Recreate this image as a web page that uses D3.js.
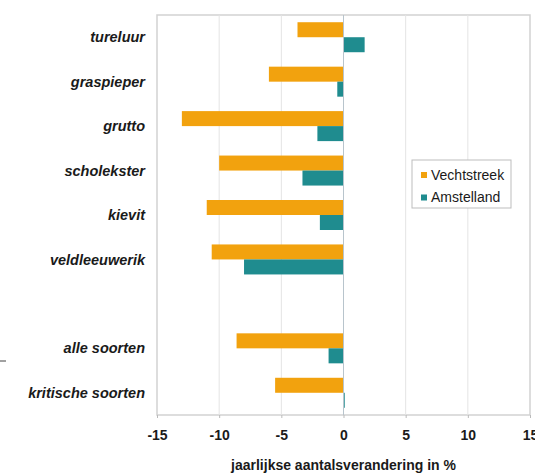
<!DOCTYPE html>
<html>
<head>
<meta charset="utf-8">
<script src="https://cdn.jsdelivr.net/npm/d3@7"></script>
<style>
  html, body { margin: 0; padding: 0; background: #fff; }
  svg { display: block; font-family: "Liberation Sans", Arial, sans-serif; }
</style>
</head>
<body>
<svg id="chart" width="535" height="474"></svg>
<script>
// Species, with an empty spacer slot before the totals
const categories = ["tureluur", "graspieper", "grutto", "scholekster", "kievit", "veldleeuwerik", "", "alle soorten", "kritische soorten"];
const species = ["tureluur", "graspieper", "grutto", "scholekster", "kievit", "veldleeuwerik", "alle soorten", "kritische soorten"];
const seriesNames = ["Vechtstreek", "Amstelland"];
const vechtstreek = [-3.7, -6.0, -13.0, -10.0, -11.0, -10.6, -8.6, -5.5];
const amstelland = [1.7, -0.5, -2.1, -3.3, -1.9, -8.0, -1.2, 0.1];
const xTicks = [-15, -10, -5, 0, 5, 10, 15];
const xTitle = "jaarlijkse aantalsverandering in %";

const colors = { "Vechtstreek": "#F2A20E", "Amstelland": "#1F8C8F" };
const seriesValues = { "Vechtstreek": vechtstreek, "Amstelland": amstelland };

const svg = d3.select("#chart");
const plot = { left: 157, right: 530, top: 15, bottom: 415 };

const x = d3.scaleLinear().domain([-15, 15]).range([plot.left, plot.right]);
const y = d3.scaleBand().domain(categories).range([plot.top, plot.bottom])
  .paddingInner(0.325).paddingOuter(0.1625);
const ySub = d3.scaleBand().domain(seriesNames).range([0, y.bandwidth()]);

// plot frame
svg.append("rect")
  .attr("x", plot.left).attr("y", plot.top)
  .attr("width", plot.right - plot.left).attr("height", plot.bottom - plot.top)
  .attr("fill", "#fff").attr("stroke", "#d2d2d2").attr("stroke-width", 1.5);

// vertical gridlines
svg.append("g").selectAll("line")
  .data(xTicks.filter(t => t !== 0 && Math.abs(t) !== 15))
  .join("line")
  .attr("x1", d => x(d)).attr("x2", d => x(d))
  .attr("y1", plot.top).attr("y2", plot.bottom)
  .attr("stroke", "#e4e4e4").attr("stroke-width", 1);

// bars
const rows = species.map((s, i) => ({ name: s, values: seriesNames.map(k => ({ key: k, value: seriesValues[k][i] })) }));
const groups = svg.append("g").selectAll("g")
  .data(rows)
  .join("g")
  .attr("transform", d => `translate(0,${y(d.name)})`);
groups.selectAll("rect")
  .data(d => d.values)
  .join("rect")
  .attr("x", d => x(Math.min(0, d.value)))
  .attr("width", d => Math.abs(x(d.value) - x(0)))
  .attr("y", d => ySub(d.key))
  .attr("height", ySub.bandwidth())
  .attr("fill", d => colors[d.key]);

// zero line
svg.append("line")
  .attr("x1", x(0)).attr("x2", x(0))
  .attr("y1", plot.top).attr("y2", plot.bottom)
  .attr("stroke", "#b8c4cc").attr("stroke-width", 1);

// x axis (plain hyphen as minus sign)
const xAxis = d3.axisBottom(x).tickValues(xTicks).tickSize(3).tickPadding(12).tickFormat(d => String(d));
const gx = svg.append("g").attr("transform", `translate(0,${plot.bottom})`).call(xAxis);
gx.select(".domain").remove();
gx.selectAll(".tick line").attr("stroke", "#bbb");
gx.selectAll(".tick text")
  .attr("fill", "#1a1a1a")
  .style("font-size", "14px").style("font-weight", "bold")
  .style("font-family", "'Liberation Sans', Arial, sans-serif");

// category labels
svg.append("g").selectAll("text")
  .data(species)
  .join("text")
  .attr("x", 145)
  .attr("y", d => y(d) + y.bandwidth() / 2)
  .attr("dy", "0.35em")
  .attr("text-anchor", "end")
  .attr("fill", "#1a1a1a")
  .style("font-size", "14.5px").style("font-weight", "bold").style("font-style", "italic")
  .text(d => d);

// axis title
svg.append("text")
  .attr("x", x(0)).attr("y", 470)
  .attr("text-anchor", "middle")
  .attr("fill", "#1a1a1a")
  .style("font-size", "14px").style("font-weight", "bold")
  .text(xTitle);

// legend
const legend = svg.append("g");
legend.append("rect")
  .attr("x", 412).attr("y", 160).attr("width", 99).attr("height", 48)
  .attr("fill", "#fff").attr("stroke", "#bdbdbd").attr("stroke-width", 1);
const li = legend.selectAll("g.item")
  .data(seriesNames)
  .join("g").attr("class", "item")
  .attr("transform", (d, i) => `translate(0,${175 + i * 22.5})`);
li.append("rect")
  .attr("x", 421).attr("y", -3).attr("width", 6).attr("height", 6)
  .attr("fill", d => colors[d]);
li.append("text")
  .attr("x", 431).attr("y", 0).attr("dy", "0.35em")
  .attr("fill", "#1a1a1a")
  .style("font-size", "14px")
  .text(d => d);

// small dash at the left margin
svg.append("line")
  .attr("x1", 0).attr("x2", 6).attr("y1", 361).attr("y2", 361)
  .attr("stroke", "#444").attr("stroke-width", 1);
</script>
</body>
</html>
